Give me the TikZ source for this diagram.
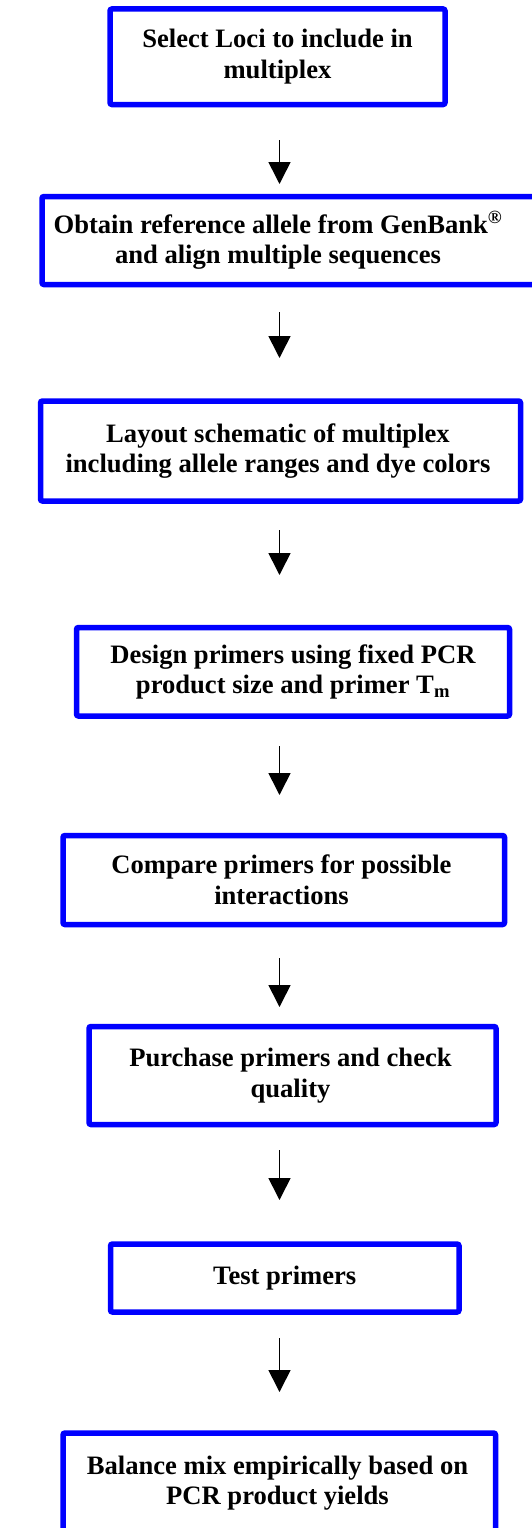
\documentclass[tikz,border=0pt]{standalone}
\usepackage{fontspec}
\setmainfont{Liberation Serif}
\usetikzlibrary{arrows.meta}
\definecolor{boxblue}{RGB}{0,0,255}
\tikzset{
  stepbox/.style={draw=boxblue, line width=5.5pt, rounded corners=2pt, align=center,
    inner sep=0pt, outer sep=0pt, font=\fontsize{26.6}{30.5}\selectfont\bfseries},
  steptext/.style={align=center, inner sep=0pt, font=\fontsize{26.6}{30.5}\selectfont\bfseries},
  flowarrow/.style={line width=1.6pt, -{Triangle[length=22pt,width=22pt]}}
}
\begin{document}
\begin{tikzpicture}[x=1pt,y=-1pt]
\useasboundingbox (0,0) rectangle (532,1528);
\node[stepbox, minimum width=335pt, minimum height=95.5pt] (b1) at (277.5,56.75) {Select Loci to include in\\multiplex};
\node[stepbox, minimum width=503pt, minimum height=88pt] (b2) at (293.5,240.5) {};
\node[steptext] (t2) at (278,240.5) {Obtain reference allele from GenBank\textsuperscript{®}\\and align multiple sequences};
\node[stepbox, minimum width=480pt, minimum height=100pt] (b3) at (280.5,451) {};
\node[steptext] (t3) at (278,451) {Layout schematic of multiplex\\including allele ranges and dye colors};
\node[stepbox, minimum width=433pt, minimum height=88.5pt] (b4) at (293,671.75) {Design primers using fixed PCR\\product size and primer T\textsubscript{m}};
\node[stepbox, minimum width=441.5pt, minimum height=89pt] (b5) at (283.75,880) {};
\node[steptext] (t5) at (281.5,880) {Compare primers for possible\\interactions};
\node[stepbox, minimum width=407pt, minimum height=98pt] (b6) at (292.5,1075.5) {};
\node[steptext] (t6) at (290.5,1075.5) {Purchase primers and check\\quality};
\node[stepbox, minimum width=348.5pt, minimum height=68pt] (b7) at (284.75,1278) {Test primers};
\node[stepbox, minimum width=432.5pt, minimum height=100pt] (b8) at (279.25,1483) {};
\node[steptext] (t8) at (277.5,1483) {Balance mix empirically based on\\PCR product yields};
\coordinate (a1s) at (279.5,140);  \coordinate (a1e) at (279.5,184);
\coordinate (a2s) at (279.5,312);  \coordinate (a2e) at (279.5,358);
\coordinate (a3s) at (279.5,530);  \coordinate (a3e) at (279.5,575);
\coordinate (a4s) at (279.5,746);  \coordinate (a4e) at (279.5,795);
\coordinate (a5s) at (279.5,958);  \coordinate (a5e) at (279.5,1007);
\coordinate (a6s) at (279.5,1150); \coordinate (a6e) at (279.5,1200);
\coordinate (a7s) at (279.5,1338); \coordinate (a7e) at (279.5,1392);
\foreach \i in {1,...,7} { \draw[flowarrow] (a\i s) -- (a\i e); }
\end{tikzpicture}
\end{document}
